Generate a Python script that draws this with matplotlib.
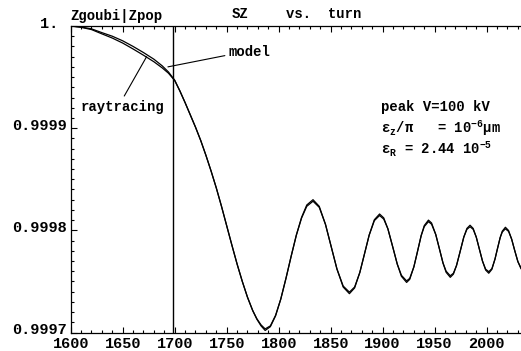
import matplotlib
matplotlib.use("Agg")
import matplotlib.pyplot as plt
from matplotlib.ticker import FixedLocator, MultipleLocator
from matplotlib.transforms import ScaledTranslation

turns = [1600, 1610, 1620, 1630, 1640, 1650, 1660, 1670, 1680, 1688, 1694,
         1700, 1705, 1710, 1715, 1720, 1725, 1730, 1735, 1740, 1745, 1750,
         1755, 1760, 1765, 1770, 1775, 1779, 1783, 1787, 1792, 1797, 1802,
         1807, 1812, 1817, 1822, 1827, 1833, 1839, 1845, 1851, 1856, 1862,
         1868, 1873, 1878, 1882, 1887, 1892, 1897, 1901, 1905, 1910, 1914,
         1918, 1923, 1926, 1930, 1933, 1937, 1940, 1944, 1947, 1951, 1954,
         1958, 1961, 1965, 1968, 1971, 1974, 1978, 1981, 1984, 1987, 1990,
         1993, 1996, 1999, 2002, 2005, 2008, 2010, 2013, 2015, 2018, 2021,
         2024, 2027, 2030, 2033, 2035]

# SZ, model
sz_model = [1.0000000, 0.9999990, 0.9999972, 0.9999935, 0.9999900, 0.9999855,
            0.9999800, 0.9999740, 0.9999675, 0.9999610, 0.9999550,
            0.9999470, 0.9999365, 0.9999250, 0.9999130, 0.9999010, 0.9998880,
            0.9998735, 0.9998580, 0.9998415, 0.9998235, 0.9998045,
            0.9997855, 0.9997670, 0.9997500, 0.9997345, 0.9997215, 0.9997130,
            0.9997065, 0.9997020, 0.9997057, 0.9997163, 0.9997327,
            0.9997530, 0.9997747, 0.9997954, 0.9998127, 0.9998248, 0.9998300,
            0.9998235, 0.9998058, 0.9997820, 0.9997622, 0.9997445,
            0.9997380, 0.9997436, 0.9997587, 0.9997749, 0.9997953, 0.9998104,
            0.9998160, 0.9998122, 0.9998015, 0.9997825, 0.9997670,
            0.9997550, 0.9997490, 0.9997520, 0.9997643, 0.9997772, 0.9997948,
            0.9998047, 0.9998100, 0.9998072, 0.9997960, 0.9997841,
            0.9997680, 0.9997589, 0.9997540, 0.9997571, 0.9997656, 0.9997774,
            0.9997934, 0.9998019, 0.9998050, 0.9998019, 0.9997933,
            0.9997815, 0.9997698, 0.9997611, 0.9997580, 0.9997618, 0.9997719,
            0.9997805, 0.9997930, 0.9997992, 0.9998030, 0.9997999,
            0.9997914, 0.9997801, 0.9997694, 0.9997624, 0.9997610]

# SZ, raytracing (Zgoubi)
sz_ray = [1.0000000, 0.9999987, 0.9999965, 0.9999923, 0.9999882, 0.9999833,
          0.9999775, 0.9999714, 0.9999650, 0.9999590, 0.9999538,
          0.9999466, 0.9999363, 0.9999250, 0.9999130, 0.9999010, 0.9998880,
          0.9998735, 0.9998580, 0.9998415, 0.9998235, 0.9998045,
          0.9997855, 0.9997670, 0.9997500, 0.9997345, 0.9997215, 0.9997135,
          0.9997075, 0.9997035, 0.9997065, 0.9997168, 0.9997327,
          0.9997530, 0.9997747, 0.9997954, 0.9998120, 0.9998235, 0.9998285,
          0.9998225, 0.9998058, 0.9997820, 0.9997622, 0.9997455,
          0.9997395, 0.9997445, 0.9997587, 0.9997749, 0.9997953, 0.9998095,
          0.9998145, 0.9998110, 0.9998015, 0.9997825, 0.9997670,
          0.9997560, 0.9997505, 0.9997530, 0.9997643, 0.9997772, 0.9997948,
          0.9998037, 0.9998085, 0.9998060, 0.9997960, 0.9997841,
          0.9997680, 0.9997600, 0.9997555, 0.9997580, 0.9997656, 0.9997774,
          0.9997934, 0.9998010, 0.9998035, 0.9998010, 0.9997933,
          0.9997815, 0.9997698, 0.9997620, 0.9997595, 0.9997625, 0.9997719,
          0.9997805, 0.9997930, 0.9997983, 0.9998015, 0.9997990,
          0.9997914, 0.9997801, 0.9997694, 0.9997632, 0.9997620]

yticks = [0.9997, 0.9998, 0.9999, 1.0]
ytick_labels = ["0.9997", "0.9998", "0.9999", "1. "]
xticks = [1600, 1650, 1700, 1750, 1800, 1850, 1900, 1950, 2000]

split_turn = 1698          # Zgoubi | Zpop boundary
model_anchor = (1693.5, 0.99996)
ray_anchor = (1673, 0.99997)

plt.rcParams.update({
    "font.family": "Liberation Mono",
    "font.weight": "bold",
    "mathtext.fontset": "custom",
    "mathtext.rm": "Liberation Mono:bold",
    "mathtext.it": "Liberation Mono:bold",
    "mathtext.bf": "Liberation Mono:bold",
})

W, H = 521, 351
fig = plt.figure(figsize=(W / 100, H / 100), dpi=100)
ax = fig.add_axes([70.7 / W, 1 - 332.5 / H, 1 - 70.7 / W, (332.5 - 26) / H])

ax.plot(turns, sz_model, color="black", lw=0.9)
ax.plot(turns, sz_ray, color="black", lw=0.9)
ax.axvline(split_turn, color="black", lw=1.0)

ax.set_xlim(1600, 2033)
ax.set_ylim(0.9997, 1.0)

ax.xaxis.set_major_locator(FixedLocator(xticks))
ax.xaxis.set_minor_locator(MultipleLocator(10))
ax.yaxis.set_major_locator(FixedLocator(yticks))
ax.yaxis.set_minor_locator(MultipleLocator(0.00001))
ax.set_yticklabels(ytick_labels)
ax.set_xticklabels([str(t) for t in xticks])

ax.tick_params(which="both", direction="in", top=True, bottom=True,
               left=True, right=False, width=0.8)
ax.tick_params(which="major", length=4.5, labelsize=11)
ax.tick_params(axis="y", which="major", pad=2.5)
ax.tick_params(axis="x", which="major", pad=3.0)
ax.tick_params(which="minor", length=2.2)
ax.spines["right"].set_visible(False)
for s in ("left", "bottom", "top"):
    ax.spines[s].set_linewidth(0.9)

# y labels sit a little above their ticks, as in the original
lift = ScaledTranslation(0, 4 / 100, fig.dpi_scale_trans)
for lab in ax.get_yticklabels():
    lab.set_fontweight("bold")
    lab.set_transform(lab.get_transform() + lift)
for lab in ax.get_xticklabels():
    lab.set_fontweight("bold")

# header texts
fig.text(70 / W, 1 - 16 / H, "Zgoubi|Zpop", fontsize=10, va="center", ha="left")
fig.text(232 / W, 1 - 14 / H, "SZ", fontsize=10, va="center", ha="left")
fig.text(286 / W, 1 - 14 / H, "vs.  turn", fontsize=10, va="center", ha="left")

# curve labels
ax.annotate("model", xy=model_anchor, xycoords="data",
            xytext=(229 / W, 1 - 52 / H), textcoords="figure fraction",
            fontsize=10, ha="left", va="center",
            arrowprops=dict(arrowstyle="-", color="black", lw=0.8,
                            shrinkA=1, shrinkB=0, relpos=(0, 0.3)))
ax.annotate("raytracing", xy=ray_anchor, xycoords="data",
            xytext=(122 / W, 1 - 107 / H), textcoords="figure fraction",
            fontsize=10, ha="center", va="center",
            arrowprops=dict(arrowstyle="-", color="black", lw=0.8,
                            shrinkA=1, shrinkB=0, relpos=(0.5, 1)))

# parameters box
fig.text(381 / W, 1 - 107 / H, "peak V=100 kV", fontsize=10, va="center")
fig.text(381 / W, 1 - 128 / H, "ε$_{z}$/π   = 10$^{-6}$μm", fontsize=10, va="center")
fig.text(381 / W, 1 - 149 / H, "ε$_{R}$ = 2.44 10$^{-5}$", fontsize=10, va="center")

fig.savefig("out.png", dpi=100)
